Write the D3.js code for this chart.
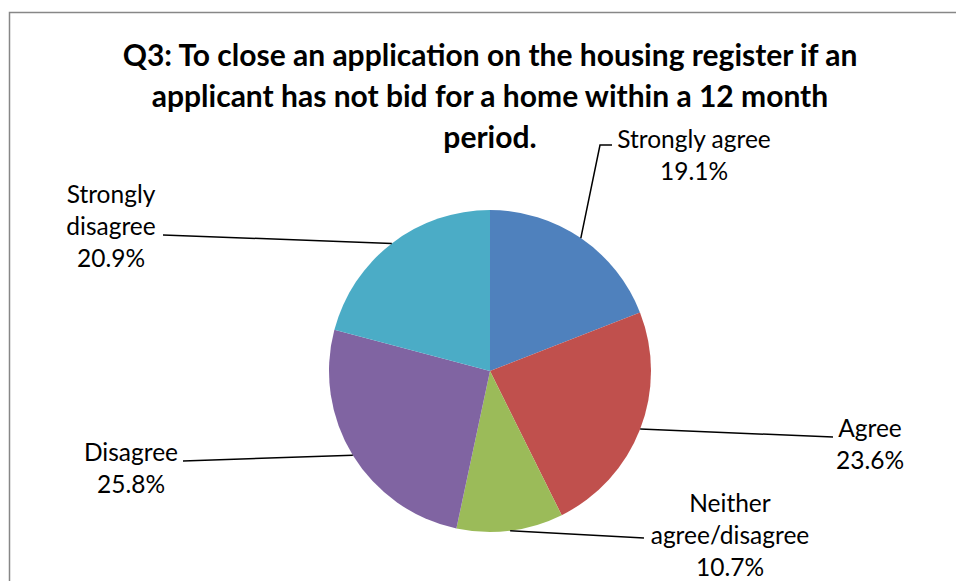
<!DOCTYPE html>
<html>
<head>
<meta charset="utf-8">
<script src="https://cdn.jsdelivr.net/npm/d3@7"></script>
<style>
  body { margin: 0; background: #fff; }
  text { font-family: Lato, "Liberation Sans", sans-serif; fill: #000; }
</style>
</head>
<body>
<div id="grafico"></div>
<script>
const width = 956
const height = 581

// data
const categories = ['Strongly agree', 'Agree', 'Neither agree/disagree', 'Disagree', 'Strongly disagree']
const values = [19.1, 23.6, 10.7, 25.8, 20.9]
const labelLines = [['Strongly agree'], ['Agree'], ['Neither', 'agree/disagree'], ['Disagree'], ['Strongly', 'disagree']]
const colors = ['#4F81BD', '#C0504D', '#9BBB59', '#8064A2', '#4BACC6']
const titleLines = ['Q3: To close an application on the housing register if an',
                    'applicant has not bid for a home within a 12 month',
                    'period.']

// label layout: text centre x, first baseline y, leader end x/y, elbow
const labelPos = [
  {x: 694, y: 148, lx: 612, ly: 145, elbow: [600, 145]},
  {x: 870, y: 437, lx: 833, ly: 437},
  {x: 730, y: 512, lx: 644, ly: 538},
  {x: 131, y: 461, lx: 183, ly: 461},
  {x: 111, y: 203, lx: 163, ly: 235}
]

const cx = 490, cy = 371, radius = 161
const lineGap = 32

const svg = d3.select('#grafico').append('svg')
              .attr('width', width)
              .attr('height', height)

svg.append('rect')
   .attr('x', 9.5).attr('y', 12.5)
   .attr('width', width + 20).attr('height', height + 20)
   .attr('fill', '#fff')
   .attr('stroke', '#878787')
   .attr('stroke-width', 1.5)

svg.append('text')
   .attr('text-anchor', 'middle')
   .style('font-weight', 'bold')
   .style('font-size', '30px')
   .selectAll('tspan')
   .data(titleLines)
   .enter()
   .append('tspan')
   .attr('x', cx)
   .attr('y', (d, i) => 66 + i * 41)
   .text(d => d)

const pie = d3.pie().sort(null).value(d => d)
const arcs = pie(values)
const arc = d3.arc().innerRadius(0).outerRadius(radius)
const edge = d3.arc().innerRadius(radius).outerRadius(radius)

const g = svg.append('g').attr('transform', `translate(${cx}, ${cy})`)

g.selectAll('path')
 .data(arcs)
 .enter()
 .append('path')
 .attr('d', arc)
 .attr('fill', (d, i) => colors[i])

// leader lines
svg.selectAll('polyline.leader')
   .data(arcs)
   .enter()
   .append('polyline')
   .attr('class', 'leader')
   .attr('fill', 'none')
   .attr('stroke', '#000')
   .attr('stroke-width', 1.5)
   .attr('points', (d, i) => {
       const c = edge.centroid(d)
       const p = labelPos[i]
       const pts = [[cx + c[0], cy + c[1]]]
       if (p.elbow) pts.push(p.elbow)
       pts.push([p.lx, p.ly])
       return pts.map(q => q.join(',')).join(' ')
   })

// labels
const labels = svg.selectAll('text.label')
                  .data(arcs)
                  .enter()
                  .append('text')
                  .attr('class', 'label')
                  .attr('text-anchor', 'middle')
                  .style('font-size', '24.5px')

labels.each(function(d, i) {
    const lines = labelLines[i].concat([d3.format('.1f')(values[i]) + '%'])
    d3.select(this).selectAll('tspan')
      .data(lines)
      .enter()
      .append('tspan')
      .attr('x', labelPos[i].x)
      .attr('y', (t, j) => labelPos[i].y + j * lineGap)
      .text(t => t)
})
</script>
</body>
</html>
